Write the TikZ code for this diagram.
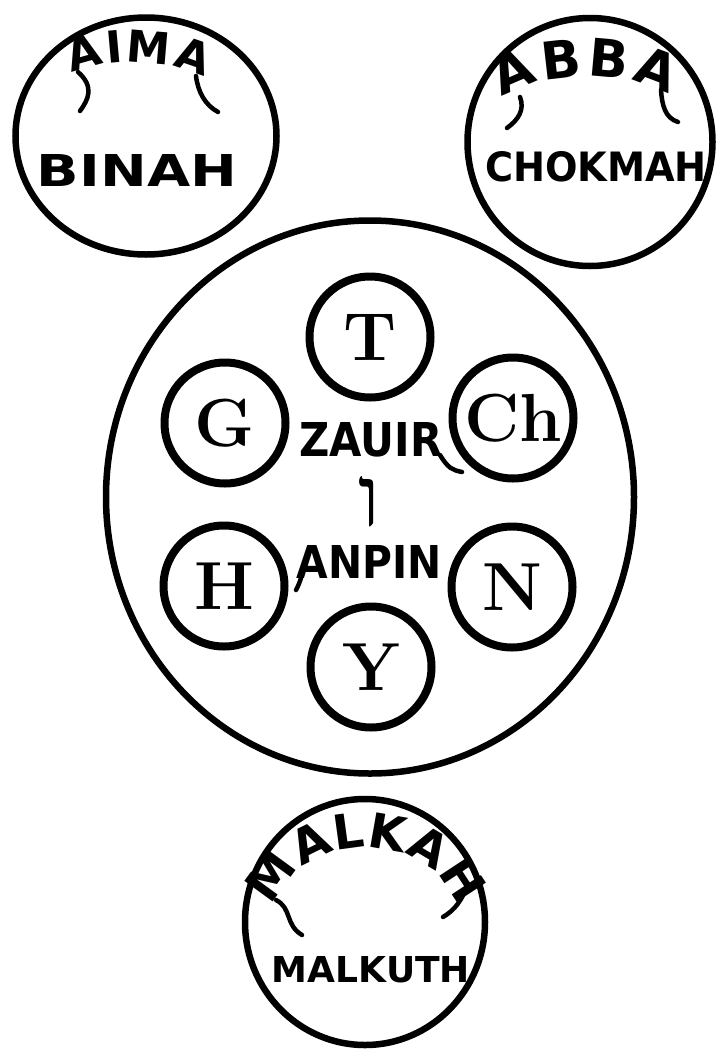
\documentclass[tikz,border=0pt]{standalone}
\usepackage{fontspec}
\usetikzlibrary{shapes.geometric,decorations.text}
\newfontfamily\labfont{DejaVu Sans}
\newfontfamily\hebfont[Script=Hebrew]{Liberation Serif}
\TeXXeTstate=1
\newcommand{\fitlab}[3]{\resizebox{#1pt}{#2pt}{\labfont\bfseries #3}}
\begin{document}
\begin{tikzpicture}[x=1pt,y=-1pt,
  ring/.style={draw, line width=6.5pt, inner sep=0pt, outer sep=0pt},
  oval/.style={ring, ellipse},
  letterc/.style={ring, line width=8pt, circle, minimum size=121pt,
    font=\fontsize{68}{68}\selectfont\bfseries},
  lab/.style={inner sep=0pt, outer sep=0pt},
  swash/.style={line width=4.5pt, line cap=round}]
\useasboundingbox (0,0) rectangle (720,1055);
\fill[white] (0,0) rectangle (720,1055);

% outer circles
\node[oval, minimum width=261pt, minimum height=237pt] (aima) at (146,136) {};
\node[oval, minimum width=245pt, minimum height=248pt] (abba) at (590,142) {};
\node[oval, minimum width=528pt, minimum height=553pt] (za) at (370,497) {};
\node[oval, minimum width=240pt, minimum height=246pt] (malkah) at (365,922) {};

% letter circles
\node[letterc] (T)  at (370,337) {T};
\node[letterc] (G)  at (225,423) {G};
\node[letterc] (Ch) at (513,418) {Ch};
\node[letterc] (H)  at (224,586) {H};
\node[letterc] (N)  at (512,587) {N};
\node[letterc] (Y)  at (371,667) {Y};

% straight labels
\node[lab] (binah)   at (137,170) {\fitlab{200}{32}{BINAH}};
\node[lab] (chokmah) at (596,167) {\fitlab{222}{30}{CHOKMAH}};
\node[lab] (zauir)   at (371,440) {\fitlab{143}{34}{ZAUIR}};
\node[lab] (vav)     at (369,502) {\resizebox{!}{50pt}{\hebfont\beginR ו\endR}};
\node[lab] (anpin)   at (369,562) {\fitlab{145}{33}{ANPIN}};
\node[lab] (malkuth) at (371,970) {\fitlab{198}{26}{MALKUTH}};

% arched labels
\path[decorate, decoration={text along path, text align=fit to path,
  text={|\labfont\bfseries\fontsize{44}{44}\selectfont|AIMA}}]
  (72,74) .. controls (105,58) and (165,58) .. (204,78);
\path[decorate, decoration={text along path, text align=fit to path,
  text={|\labfont\bfseries\fontsize{52}{52}\selectfont|ABBA}}]
  (503,99) .. controls (535,72) and (625,68) .. (668,96);
\path[decorate, decoration={text along path, text align=fit to path,
  text={|\labfont\bfseries\fontsize{48}{48}\selectfont|MALKAH}}]
  (274,907) arc[start angle=-165, end angle=-15, x radius=95, y radius=80];

% swash tails of the lettering
\draw[swash] (78,72) .. controls (95,87) and (88,100) .. (80,111);
\draw[swash] (196,76) .. controls (198,92) and (205,105) .. (218,112);
\draw[swash] (520,97) .. controls (525,110) and (518,120) .. (507,128);
\draw[swash] (661,90) .. controls (662,105) and (665,118) .. (678,122);
\draw[swash] (276,900) .. controls (292,908) and (285,925) .. (302,935);
\draw[swash] (468,884) .. controls (462,900) and (455,910) .. (443,917);
\draw[swash] (440,455) .. controls (448,468) and (452,470) .. (462,472);
\draw[swash] (305,562) .. controls (302,575) and (300,583) .. (296,590);
\end{tikzpicture}
\end{document}
